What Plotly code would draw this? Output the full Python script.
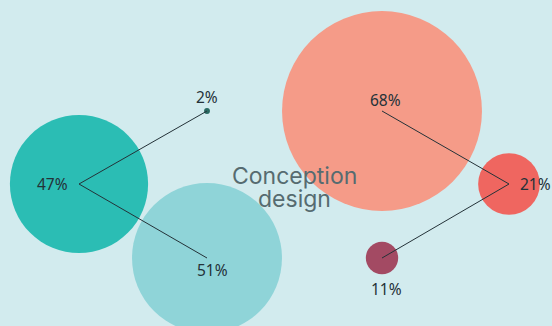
import plotly.graph_objects as go

# Share of each part, in percent
labels = ["47%", "51%", "2%", "68%", "21%", "11%"]
values = [47, 51, 2, 68, 21, 11]
# Bubble positions on the chart grid
xs = [7.9, 20.7, 20.7, 38.2, 50.9, 38.2]
ys = [18.4, 25.8, 11.1, 11.1, 18.4, 25.8]
colors = ["#2bbdb4", "#8fd4d8", "#2a6a62", "#f59b88", "#ef6660", "#a34a63"]
# Label placement relative to each bubble centre: (xanchor, xshift, yshift)
label_place = [("right", -9, 0), ("center", 5, -12), ("center", 0, 14),
               ("center", 3, 11), ("left", 9, 0), ("center", 4, -31)]

# Centre title, one line per entry
title_lines = ["Conception", "design"]
title_y = [17.6, 19.9]

# Connector groups: hub index -> spokes
links = [(0, [2, 1]), (4, [3, 5])]

fig = go.Figure()

fig.add_trace(go.Scatter(
    x=xs, y=ys, mode="markers",
    marker=dict(size=values, sizemode="diameter", sizeref=1 / 2.94,
                color=colors, opacity=1, line=dict(width=0)),
    hoverinfo="skip", showlegend=False,
))

for hub, spokes in links:
    lx, ly = [], []
    for s in spokes:
        lx += [xs[hub], xs[s], None]
        ly += [ys[hub], ys[s], None]
    fig.add_trace(go.Scatter(
        x=lx, y=ly, mode="lines",
        line=dict(color="#243238", width=1),
        hoverinfo="skip", showlegend=False,
    ))

for lab, x, y, (anchor, dx, dy) in zip(labels, xs, ys, label_place):
    fig.add_annotation(
        x=x, y=y, text=lab, showarrow=False,
        xanchor=anchor, yanchor="middle", xshift=dx, yshift=dy,
        font=dict(family="Noto Sans", size=15.5, color="#243238"),
    )

for line, y in zip(title_lines, title_y):
    fig.add_annotation(
        x=29.45, y=y, text=line, showarrow=False,
        xanchor="center", yanchor="middle", borderpad=0,
        font=dict(family="Inter", size=23, color="#566b70"),
    )

fig.update_layout(
    width=552, height=326,
    margin=dict(l=0, r=0, t=0, b=0),
    paper_bgcolor="#d2ebee", plot_bgcolor="#d2ebee",
    xaxis=dict(range=[0, 55.2], visible=False, fixedrange=True),
    yaxis=dict(range=[32.6, 0], visible=False, fixedrange=True),
)

fig.write_html("out.html")
